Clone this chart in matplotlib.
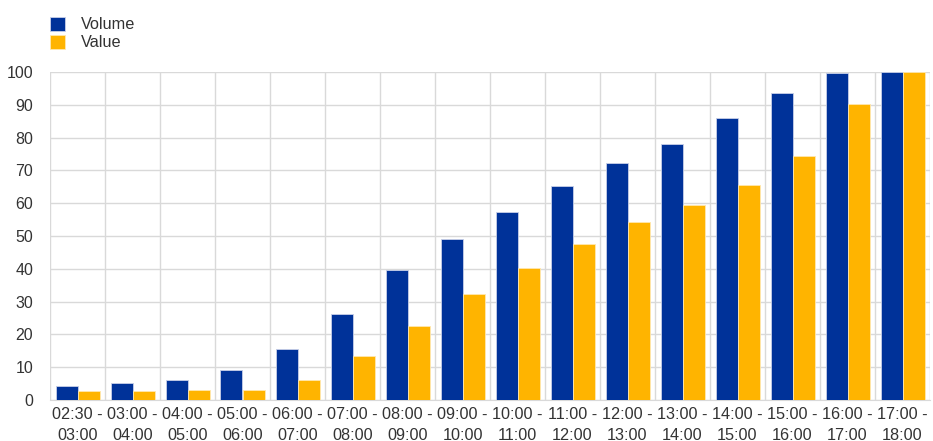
import matplotlib.pyplot as plt
import numpy as np

plt.rcParams['font.family'] = ['Liberation Sans', 'DejaVu Sans']

labels = ['02:30 -\n03:00', '03:00 -\n04:00', '04:00 -\n05:00', '05:00 -\n06:00',
          '06:00 -\n07:00', '07:00 -\n08:00', '08:00 -\n09:00', '09:00 -\n10:00',
          '10:00 -\n11:00', '11:00 -\n12:00', '12:00 -\n13:00', '13:00 -\n14:00',
          '14:00 -\n15:00', '15:00 -\n16:00', '16:00 -\n17:00', '17:00 -\n18:00']
volume = [4.2, 5.3, 6.2, 9.0, 15.5, 26.3, 39.7, 49.0, 57.3, 65.2, 72.2, 78.0, 86.0, 93.7, 99.7, 100.0]
value = [2.6, 2.6, 3.0, 3.0, 6.2, 13.5, 22.5, 32.3, 40.2, 47.5, 54.3, 59.4, 65.7, 74.3, 90.2, 100.0]

blue = '#003299'
orange = '#FFB400'
grid_c = '#d9d9d9'
text_c = '#333333'

fig = plt.figure(figsize=(9.33, 4.41), dpi=100)
ax = fig.add_axes([50 / 933, 1 - 400 / 441, 880 / 933, 328 / 441])

x = np.arange(len(labels))
w = 0.4
ax.bar(x - w / 2, volume, w, color=blue, edgecolor='#c8d0e8', linewidth=0.6, label='Volume', zorder=3)
ax.bar(x + w / 2, value, w, color=orange, edgecolor='#ffe8b0', linewidth=0.6, label='Value', zorder=3)

ax.set_xlim(-0.5, len(labels) - 0.5)
ax.set_ylim(0, 100)
ax.set_yticks(range(0, 101, 10))
ax.set_xticks(x)
ax.set_xticklabels(labels, fontsize=11.7, color=text_c, linespacing=1.5)
ax.tick_params(axis='y', labelsize=11.5, colors=text_c, length=0, pad=12)
ax.tick_params(axis='x', length=0, pad=5)
ax.set_xticks(np.arange(-0.5, len(labels), 1), minor=True)
ax.tick_params(axis='x', which='minor', length=0)
ax.grid(axis='y', color=grid_c, linewidth=1, zorder=0)
ax.grid(axis='x', which='minor', color=grid_c, linewidth=1, zorder=0)
ax.grid(axis='x', which='major', visible=False)
for s in ['top', 'right', 'left']:
    ax.spines[s].set_visible(False)
ax.spines['bottom'].set_color(grid_c)

fig.legend(loc='upper left', bbox_to_anchor=(35 / 933, 1 - 2 / 441), frameon=False,
           fontsize=11.7, handlelength=0.95, handleheight=0.95, handletextpad=1.0,
           labelspacing=0.15, labelcolor=text_c)

fig.savefig('out.png', dpi=100)
